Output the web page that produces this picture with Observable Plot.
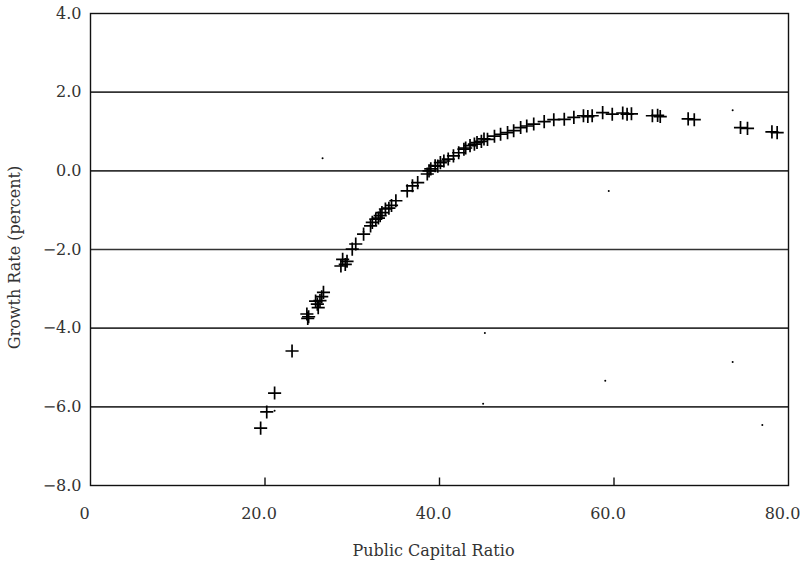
<!DOCTYPE html>
<html>
<head>
<meta charset="utf-8">
<script src="https://cdn.jsdelivr.net/npm/d3@7"></script>
<script src="https://cdn.jsdelivr.net/npm/@observablehq/plot@0.6"></script>
<style>
  html, body { margin: 0; padding: 0; background: #fff; }
  #chart svg { display: block; }
</style>
</head>
<body>
<div id="chart"></div>
<script>
// Public capital ratio (x) and growth rate in percent (y)
const ratio = [19.5, 20.2, 21.1, 23.1, 24.8, 25.0, 24.9, 25.8, 26.0, 26.1, 26.3, 26.5, 26.7,
  28.7, 28.9, 29.2, 29.4, 30.0, 30.4, 31.3, 32.1, 32.3, 32.7, 33.0, 33.2, 33.4, 33.8, 34.2, 34.5, 35.0,
  36.3, 36.9, 37.5, 38.6, 38.8, 39.0, 39.5, 39.8, 40.1, 40.5, 41.0, 41.6, 42.2, 42.8, 43.0, 43.5, 44.0,
  44.3, 44.8, 45.1, 45.5, 46.3, 47.0, 47.8, 48.5, 49.3, 50.0, 50.8, 52.0, 53.1, 54.3, 55.4, 56.5, 57.0,
  57.5, 58.7, 59.8, 61.0, 61.5, 62.0, 64.4, 65.0, 65.3, 68.5, 69.2, 74.5, 75.3, 78.1, 78.7];
const growth = [-6.54, -6.13, -5.65, -4.58, -3.64, -3.71, -3.75, -3.31, -3.39, -3.48, -3.30, -3.20, -3.09,
  -2.42, -2.25, -2.38, -2.30, -1.99, -1.86, -1.61, -1.40, -1.31, -1.23, -1.20, -1.14, -1.06, -0.97, -0.95, -0.88, -0.76,
  -0.51, -0.38, -0.30, -0.08, 0.00, 0.05, 0.13, 0.12, 0.21, 0.25, 0.30, 0.38, 0.46, 0.55, 0.58, 0.64, 0.68,
  0.72, 0.75, 0.81, 0.80, 0.88, 0.93, 0.97, 1.02, 1.10, 1.14, 1.19, 1.25, 1.30, 1.31, 1.36, 1.40, 1.38,
  1.40, 1.48, 1.44, 1.47, 1.44, 1.45, 1.40, 1.41, 1.38, 1.32, 1.30, 1.10, 1.08, 0.99, 0.97];

// Stray single dots
const strayRatio = [26.6, 59.4, 45.2, 59.0, 45.0, 73.6, 77.0, 73.6, 21.1, 31.3];
const strayGrowth = [0.32, -0.51, -4.12, -5.34, -5.92, -4.86, -6.46, 1.54, -6.10, -1.55];

// Axis ticks
const xTicks = [0, 20, 40, 60, 80];
const xTickLabels = ["0", "20.0", "40.0", "60.0", "80.0"];
const xInnerTicks = [20, 40, 60];
const yTicks = [4, 2, 0, -2, -4, -6, -8];
const yTickLabels = ["4.0", "2.0", "0.0", "\u22122.0", "\u22124.0", "\u22126.0", "\u22128.0"];
const xTitle = "Public Capital Ratio";
const yTitle = "Growth Rate (percent)";

const points = ratio.map((r, i) => ({x: r, y: growth[i]}));
const strays = strayRatio.map((r, i) => ({x: r, y: strayGrowth[i]}));
const gridY = yTicks.filter(v => v > -8 && v < 4);

// an upward tick of 8 px drawn as a dot symbol anchored at the bottom edge
const upTick = {draw(context) { context.moveTo(0, 0); context.lineTo(0, -8); }};

const font = "'DejaVu Serif', 'Liberation Serif', serif";

const chart = Plot.plot({
  width: 800,
  height: 569,
  marginLeft: 90,
  marginRight: 12,
  marginTop: 13,
  marginBottom: 84,
  style: {fontFamily: font, fontSize: "16px", color: "#333", background: "#fff"},
  x: {domain: [0, 80]},
  y: {domain: [-8, 4]},
  marks: [
    Plot.ruleY(gridY, {stroke: "#333", strokeWidth: 1.6}),
    Plot.frame({stroke: "#111", strokeWidth: 1.4}),
    Plot.dot(xInnerTicks, {x: (d) => d, frameAnchor: "bottom", symbol: upTick, fill: "none", stroke: "#111", strokeWidth: 1.4}),
    Plot.axisX({ticks: xTicks, tickSize: 0, tickPadding: 22, dx: -6,
      tickFormat: (d) => xTickLabels[xTicks.indexOf(d)], label: null, fill: "#333"}),
    Plot.axisY({ticks: yTicks, tickSize: 0, tickPadding: 9,
      tickFormat: (d) => yTickLabels[yTicks.indexOf(d)], label: null, fill: "#333"}),
    Plot.text([xTitle], {frameAnchor: "bottom", dy: 70, dx: -6, fill: "#333"}),
    Plot.text([yTitle], {frameAnchor: "left", textAnchor: "middle", rotate: -90, dx: -76, dy: 8, fill: "#333"}),
    Plot.dot(strays, {x: "x", y: "y", r: 1, fill: "#000", stroke: null}),
    Plot.dot(points, {x: "x", y: "y", symbol: "plus", r: 4.3, stroke: "#000", strokeWidth: 1.7})
  ]
});
document.getElementById("chart").append(chart);
</script>
</body>
</html>
